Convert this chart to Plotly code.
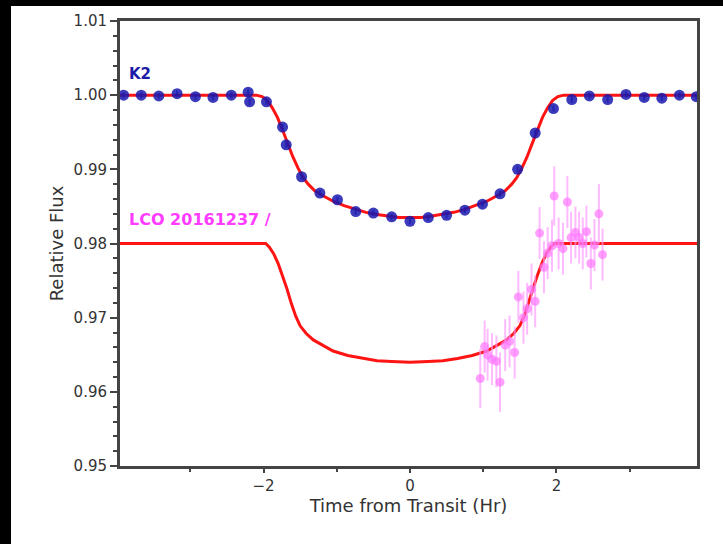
import plotly.graph_objects as go

# ---------------- data ----------------
k2_x = [-3.91, -3.67, -3.43, -3.18, -2.93, -2.69, -2.44, -2.21, -2.19, -1.96,
        -1.74, -1.69, -1.48, -1.23, -0.99, -0.74, -0.50, -0.25, 0.00, 0.25,
        0.50, 0.75, 0.99, 1.23, 1.47, 1.71, 1.96, 2.21, 2.45, 2.70,
        2.95, 3.20, 3.44, 3.68, 3.91]
k2_y = [1.0000, 1.0000, 0.9999, 1.0002, 0.9998, 0.9997, 1.0000, 1.0004, 0.9991, 0.9991,
        0.9957, 0.9933, 0.9890, 0.9868, 0.9859, 0.9843, 0.9841, 0.9836, 0.9830, 0.9835,
        0.9838, 0.9845, 0.9853, 0.9867, 0.9900, 0.9949, 0.9982, 0.9994, 0.9999, 0.9994,
        1.0001, 0.9997, 0.9996, 1.0000, 0.9998]
k2_err = [0.0004] * len(k2_x)

k2_model_x = [-3.96, -2.10, -2.02, -1.95, -1.88, -1.81, -1.74, -1.67, -1.60, -1.53,
              -1.46, -1.39, -1.30, -1.20, -1.05, -0.90, -0.75, -0.60, -0.45, -0.30,
              -0.15, 0.00, 0.15, 0.30, 0.45, 0.60, 0.75, 0.90, 1.05, 1.20,
              1.30, 1.39, 1.46, 1.53, 1.60, 1.67, 1.74, 1.81, 1.88, 1.95,
              2.02, 2.10, 3.92]
k2_model_y = [1.0000, 1.0000, 0.9998, 0.9993, 0.9983, 0.9970, 0.9953, 0.9935, 0.9917, 0.9902,
              0.9889, 0.9880, 0.9871, 0.9865, 0.9857, 0.9851, 0.9846, 0.9842, 0.9839, 0.9837,
              0.9835, 0.9835, 0.9835, 0.9837, 0.9839, 0.9842, 0.9846, 0.9851, 0.9857, 0.9865,
              0.9871, 0.9880, 0.9889, 0.9902, 0.9917, 0.9935, 0.9953, 0.9970, 0.9983, 0.9993,
              0.9998, 1.0000, 1.0000]

lco_x = [0.96, 1.02, 1.06, 1.12, 1.18, 1.23, 1.30, 1.36, 1.43, 1.48,
         1.55, 1.60, 1.66, 1.71, 1.77, 1.83, 1.88, 1.94, 1.97, 2.03,
         2.09, 2.15, 2.20, 2.26, 2.31, 2.36, 2.41, 2.47, 2.52, 2.58, 2.63]
lco_y = [0.9618, 0.9661, 0.9650, 0.9644, 0.9641, 0.9613, 0.9663, 0.9668, 0.9653, 0.9728,
         0.9700, 0.9712, 0.9738, 0.9722, 0.9814, 0.9768, 0.9787, 0.9797, 0.9864, 0.9800,
         0.9793, 0.9856, 0.9808, 0.9815, 0.9808, 0.9800, 0.9816, 0.9773, 0.9798, 0.9840, 0.9785]
lco_err = [0.0040, 0.0035, 0.0035, 0.0035, 0.0035, 0.0040, 0.0035, 0.0035, 0.0035, 0.0035,
           0.0035, 0.0035, 0.0035, 0.0035, 0.0035, 0.0035, 0.0035, 0.0035, 0.0040, 0.0035,
           0.0035, 0.0035, 0.0035, 0.0035, 0.0035, 0.0035, 0.0035, 0.0035, 0.0035, 0.0040, 0.0035]

lco_model_x = [-3.96, -1.97, -1.92, -1.86, -1.80, -1.74, -1.68, -1.62, -1.56, -1.50,
               -1.42, -1.32, -1.20, -1.05, -0.85, -0.65, -0.45, -0.25, 0.00, 0.25,
               0.45, 0.65, 0.85, 1.05, 1.20, 1.32, 1.42, 1.50, 1.56, 1.62,
               1.68, 1.74, 1.80, 1.86, 1.92, 1.97, 3.92]
lco_model_y = [0.9800, 0.9800, 0.9795, 0.9786, 0.9773, 0.9757, 0.9739, 0.9719, 0.9702, 0.9689,
               0.9679, 0.9670, 0.9663, 0.9655, 0.9649, 0.9645, 0.9642, 0.9641, 0.9640, 0.9641,
               0.9642, 0.9645, 0.9649, 0.9655, 0.9663, 0.9670, 0.9679, 0.9689, 0.9702, 0.9719,
               0.9739, 0.9757, 0.9773, 0.9786, 0.9795, 0.9800, 0.9800]

x_range = [-3.96, 3.92]
y_range = [0.95, 1.01]
y_ticks = [0.95, 0.96, 0.97, 0.98, 0.99, 1.00, 1.01]
x_ticks = [-2, 0, 2]

# ---------------- figure ----------------
W, H = 723, 544
ML, MR, MT, MB = 120, 26, 21, 78
PW, PH = W - ML - MR, H - MT - MB

fig = go.Figure()

fig.add_trace(go.Scatter(x=k2_model_x, y=k2_model_y, mode="lines",
                         line=dict(color="#ff1414", width=3), hoverinfo="skip"))
fig.add_trace(go.Scatter(x=lco_model_x, y=lco_model_y, mode="lines",
                         line=dict(color="#ff1414", width=3), hoverinfo="skip"))

fig.add_trace(go.Scatter(
    x=lco_x, y=lco_y, mode="markers",
    marker=dict(color="rgba(255,120,255,0.7)", size=9),
    error_y=dict(type="data", array=lco_err, color="rgba(255,150,255,0.65)",
                 thickness=2, width=0)))

fig.add_trace(go.Scatter(
    x=k2_x, y=k2_y, mode="markers",
    marker=dict(color="rgba(25,25,175,0.85)", size=11),
    error_y=dict(type="data", array=k2_err, color="rgba(25,25,175,0.7)",
                 thickness=2, width=0)))

fig.add_annotation(x=-3.86, y=1.0029, xref="x", yref="y", text="<b>K2</b>",
                   showarrow=False, xanchor="left", yanchor="middle",
                   font=dict(family="DejaVu Sans", size=15, color="#1c1ca8"))
fig.add_annotation(x=-3.86, y=0.9832, xref="x", yref="y", text="<b>LCO 20161237 /</b>",
                   showarrow=False, xanchor="left", yanchor="middle",
                   font=dict(family="DejaVu Sans", size=16, color="#ff3cff"))

# black bands along the top and left edges of the picture
fig.add_shape(type="rect", xref="paper", yref="paper",
              x0=-ML / PW, x1=(W - ML) / PW, y0=1 + (MT - 6) / PH, y1=1 + MT / PH,
              fillcolor="black", line=dict(width=0), layer="above")
fig.add_shape(type="rect", xref="paper", yref="paper",
              x0=-ML / PW, x1=-(ML - 11) / PW, y0=-MB / PH, y1=1 + MT / PH,
              fillcolor="black", line=dict(width=0), layer="above")

axis_common = dict(showline=True, mirror=True, linecolor="#444", linewidth=3,
                   showgrid=False, zeroline=False, ticks="outside",
                   tickwidth=1.5, tickcolor="#444",
                   tickfont=dict(family="DejaVu Sans", size=15, color="#333"))

fig.update_xaxes(range=x_range, tickvals=x_ticks, ticktext=["\u22122", "0", "2"],
                 ticklen=4,
                 title=dict(text="Time from Transit (Hr)", standoff=0,
                            font=dict(family="DejaVu Sans", size=18, color="#333")),
                 minor=dict(dtick=1, tick0=0, ticklen=3, ticks="outside", tickcolor="#444"),
                 **axis_common)
fig.update_yaxes(range=y_range, tickvals=y_ticks, tickformat=".2f", ticklen=7,
                 title=dict(text="Relative Flux", standoff=6,
                            font=dict(family="DejaVu Sans", size=18, color="#333")),
                 minor=dict(dtick=0.002, tick0=0.95, ticklen=4, ticks="outside", tickcolor="#444"),
                 **axis_common)

fig.update_layout(width=W, height=H, margin=dict(l=ML, r=MR, t=MT, b=MB),
                  paper_bgcolor="white", plot_bgcolor="white",
                  showlegend=False, font=dict(family="DejaVu Sans"))

fig.write_html(
    "out.html",
    config={"displayModeBar": False},
    post_script=("document.documentElement.style.overflow='hidden';"
                 "document.body.style.overflow='hidden';"
                 "document.body.style.margin='0';"),
)
